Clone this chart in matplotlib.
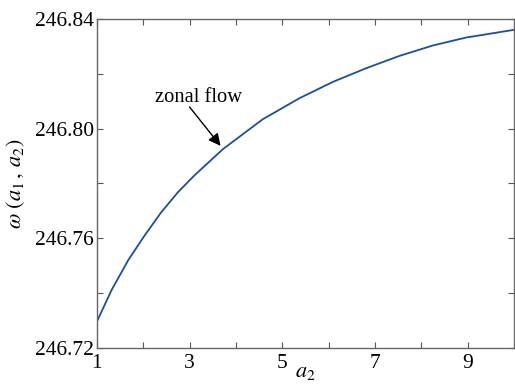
import matplotlib
matplotlib.use("Agg")
import matplotlib.pyplot as plt

# values
a2 = [1.0, 1.32, 1.68, 2.03, 2.39, 2.75, 3.11, 3.72, 4.58, 5.375,
      6.09, 6.81, 7.53, 8.25, 8.97, 10.0]
omega = [246.7296, 246.7412, 246.7521, 246.7610, 246.7695, 246.7768,
         246.7830, 246.7925, 246.8034, 246.8111, 246.8170, 246.8220,
         246.8265, 246.8303, 246.8332, 246.8360]

xticks = [1, 2, 3, 4, 5, 6, 7, 8, 9, 10]
xticklabels = ["1", "", "3", "", "5", "", "7", "", "9", ""]
yticks = [246.72, 246.74, 246.76, 246.78, 246.80, 246.82, 246.84]
yticklabels = ["246.72", "", "246.76", "", "246.80", "", "246.84"]

plt.rcParams["font.family"] = ["Liberation Serif", "DejaVu Serif"]
plt.rcParams["mathtext.fontset"] = "stix"

fig = plt.figure(figsize=(5.15, 3.85), dpi=100)
ax = fig.add_axes([0.188, 0.096, 0.81, 0.855])

ax.plot(a2, omega, color="#1a4f9c", lw=1.3)

ax.set_xlim(1, 10)
ax.set_ylim(246.72, 246.84)
ax.set_xticks(xticks)
ax.set_xticklabels(xticklabels)
ax.set_yticks(yticks)
ax.set_yticklabels(yticklabels)
ax.tick_params(direction="in", length=4, width=0.8, color="#555555",
               labelsize=15.5, top=True, right=True, pad=2)
ax.tick_params(axis="x", pad=4)

for s in ax.spines.values():
    s.set_color("#666666")
    s.set_linewidth(1.0)

ax.set_xlabel(r"$a_2$", fontsize=16, labelpad=-7)
ax.set_ylabel(r"$\omega\ (a_1\, ,\, a_2)$", fontsize=16, labelpad=6)

ax.text(3.2, 246.8115, "zonal flow", fontsize=14.8, ha="center", va="center")
ax.annotate("", xy=(3.67, 246.7937), xytext=(3.0, 246.8079),
            arrowprops=dict(arrowstyle="-|>", color="black", lw=1.0,
                            mutation_scale=18, shrinkA=0, shrinkB=0))

fig.savefig("out.png", dpi=100)
